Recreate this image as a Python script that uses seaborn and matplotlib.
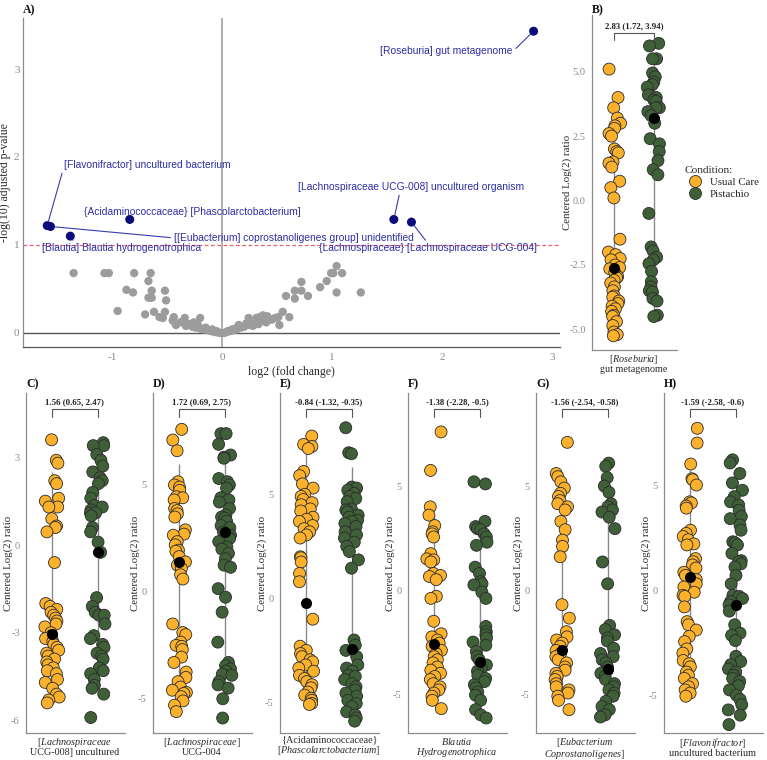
import numpy as np
import pandas as pd
import matplotlib
matplotlib.use("Agg")
import matplotlib.pyplot as plt
import seaborn as sns

# ---------------- data ----------------
# Panel A: volcano (grey = non significant)
grey_lfc = [-1.35, -1.07, -1.03, -0.80, -0.65, -0.67, -0.87, -0.81, -0.64, -0.67,
            -0.64, -0.52, -0.51, -0.95, -0.70, -0.62, -0.52, -0.57, -0.54, -0.44,
            -0.45, -0.34, -0.20, -0.38, -0.42, -0.33, -0.30, -0.27, -0.26, -0.24,
            -0.22, -0.20, -0.17, -0.15, -0.13, -0.10, -0.09, -0.07, -0.05, -0.04,
            -0.02, 0.00, 0.02, 0.04, 0.05, 0.07, 0.09, 0.10, 0.12, 0.13,
            0.15, 0.17, 0.20, 0.22, 0.24, 0.25, 0.28, 0.30, 0.31, 0.33,
            0.34, 0.36, 0.37, 0.40, 0.41, 0.45, 0.48, 0.51, 0.52, 0.55,
            0.58, 0.61, 0.66, 0.66, 0.72, 0.72, 0.78, 0.89, 0.95, 0.99,
            1.01, 1.04, 1.09, 1.04, 1.26]
grey_p = [0.68, 0.68, 0.68, 0.68, 0.68, 0.59, 0.49, 0.46, 0.48, 0.40,
          0.40, 0.48, 0.37, 0.25, 0.21, 0.24, 0.24, 0.18, 0.17, 0.18,
          0.14, 0.17, 0.17, 0.12, 0.09, 0.08, 0.10, 0.07, 0.12, 0.06,
          0.09, 0.05, 0.04, 0.06, 0.03, 0.02, 0.04, 0.01, 0.02, 0.005,
          0.00, 0.00, 0.00, 0.01, 0.02, 0.02, 0.04, 0.03, 0.05, 0.04,
          0.09, 0.06, 0.07, 0.11, 0.17, 0.09, 0.08, 0.12, 0.17, 0.10,
          0.18, 0.14, 0.20, 0.12, 0.19, 0.15, 0.17, 0.18, 0.09, 0.24,
          0.42, 0.18, 0.39, 0.48, 0.58, 0.48, 0.42, 0.52, 0.59, 0.68,
          0.68, 0.76, 0.68, 0.46, 0.46]
sig_names = ["[Roseburia] gut metagenome",
             "[Flavonifractor] uncultured bacterium",
             "[[Eubacterium] coprostanoligenes group] unidentified",
             "[Blautia] Blautia hydrogenotrophica",
             "{Acidaminococcaceae} [Phascolarctobacterium]",
             "[Lachnospiraceae UCG-008] uncultured organism",
             "{Lachnospiraceae} [Lachnospiraceae UCG-004]"]
sig_lfc = [2.83, -1.59, -1.56, -1.38, -0.84, 1.56, 1.72]
sig_p = [3.43, 1.22, 1.21, 1.10, 1.29, 1.29, 1.26]
p_threshold = 1.0

conditions = ["Usual Care", "Pistachio"]

# Panel B  [Roseburia] gut metagenome
uc_B = [5.1, 4.0, 3.6, 3.2, 3.0, 2.9, 2.8, 2.6, 2.5, 2.0, 1.9, 1.85, 1.5, 1.45, 1.3,
        0.75, 0.5, 0.1, -1.5, -2.0, -2.1, -2.25, -2.3, -2.5, -2.6, -2.65, -2.8, -2.95,
        -3.0, -3.1, -3.2, -3.35, -3.5, -3.7, -3.75, -3.9, -4.0, -4.1, -4.2, -4.3, -4.45,
        -4.5, -4.7, -4.85, -5.1, -5.2, -5.25]
pi_B = [6.1, 6.0, 5.5, 5.5, 4.95, 4.8, 4.6, 4.5, 4.4, 4.1, 4.0, 3.9, 3.85, 3.6, 3.6,
        3.45, 3.3, 3.0, 2.4, 2.2, 1.9, 1.55, 1.2, 1.0, -0.5, -1.8, -1.95, -2.2, -2.3,
        -2.45, -2.75, -3.15, -3.35, -3.5, -3.55, -3.8, -3.9, -4.45, -4.5]
# Panel C  Lachnospiraceae UCG-008
uc_C = [3.6, 2.9, 2.8, 2.2, 2.1, 1.6, 1.5, 1.3, 1.3, 0.9, 0.65, 0.6, 0.45, -0.6, -2.0,
        -2.1, -2.2, -2.3, -2.4, -2.5, -2.6, -2.7, -2.8, -3.0, -3.1, -3.2, -3.3, -3.4,
        -3.5, -3.6, -3.7, -3.8, -3.9, -4.0, -4.1, -4.2, -4.3, -4.4, -4.6, -4.7, -4.9,
        -5.1, -5.2, -5.3, -5.4]
pi_C = [3.5, 3.4, 3.4, 3.1, 2.9, 2.7, 2.5, 2.3, 2.2, 2.1, 1.8, 1.6, 1.35, 1.3, 1.2,
        1.1, 1.1, 1.0, 0.6, 0.45, 0.1, -0.25, -1.8, -2.1, -2.3, -2.4, -2.4, -2.7, -3.1,
        -3.2, -3.4, -3.5, -3.7, -3.8, -3.9, -4.2, -4.3, -4.4, -4.6, -4.8, -4.9, -5.1, -5.9]
# Panel D  Lachnospiraceae UCG-004
uc_D = [7.6, 7.1, 6.6, 5.15, 5.0, 4.9, 4.75, 4.45, 4.4, 4.3, 3.9, 3.8, 3.65, 3.5, 2.9,
        2.7, 2.65, 2.35, 2.2, 1.95, 1.9, 1.65, 1.4, 1.25, 1.1, 0.8, 0.6, -1.5, -1.9,
        -2.0, -2.35, -2.5, -2.55, -2.7, -3.05, -3.3, -3.75, -4.0, -4.2, -4.45, -4.6,
        -4.7, -4.75, -4.9, -5.1, -5.3, -5.6]
pi_D = [7.4, 7.4, 6.9, 6.4, 6.3, 6.25, 5.3, 5.15, 5.0, 4.85, 4.4, 4.3, 4.2, 3.9, 3.6,
        3.5, 3.45, 3.3, 3.1, 3.0, 2.8, 2.65, 2.5, 2.35, 2.1, 2.0, 1.8, 1.55, 1.25, 1.15,
        0.15, -0.25, -0.95, -2.35, -3.3, -3.45, -3.6, -3.7, -3.85, -3.9, -4.2, -4.35,
        -4.5, -5.0, -5.9]
# Panel E  Acidaminococcaceae / Phascolarctobacterium
uc_E = [7.8, 7.4, 7.3, 7.2, 6.1, 5.9, 5.5, 5.3, 5.0, 4.9, 4.75, 4.6, 4.5, 4.3, 4.2,
        3.9, 3.8, 3.7, 3.5, 3.35, 3.2, 3.05, 2.9, 2.0, 1.95, 1.75, 1.2, 0.8, -1.0, -2.3,
        -2.5, -2.65, -2.8, -2.95, -3.05, -3.2, -3.35, -3.5, -3.7, -3.85, -4.0, -4.15,
        -4.3, -4.5, -4.65, -4.8, -4.9, -5.05, -5.1]
pi_E = [8.2, 7.0, 6.95, 5.35, 5.3, 5.2, 5.05, 4.9, 4.8, 4.65, 4.3, 4.25, 4.15, 4.0,
        3.9, 3.75, 3.7, 3.6, 3.45, 3.2, 3.05, 2.9, 2.7, 2.5, 2.25, 1.85, 1.45, -2.0,
        -2.25, -2.5, -2.8, -3.2, -3.35, -3.5, -3.7, -3.75, -3.9, -4.1, -4.25, -4.4,
        -4.55, -4.7, -4.9, -5.05, -5.2, -5.45, -5.6, -5.75, -5.9]
# Panel F  Blautia hydrogenotrophica
uc_F = [7.6, 5.75, 4.0, 3.6, 3.1, 2.8, 2.7, 2.55, 1.75, 1.5, 1.45, 1.35, 0.8, 0.7, 0.65,
        0.5, -0.3, -0.4, -1.5, -2.1, -2.25, -2.4, -2.55, -2.7, -2.9, -3.05, -3.2, -3.35,
        -3.5, -3.7, -3.85, -4.0, -4.15, -4.3, -4.5, -4.65, -4.8, -4.95, -5.1, -5.3, -5.7]
pi_F = [5.2, 5.1, 3.3, 3.05, 2.95, 2.9, 2.7, 2.55, 2.3, 2.15, 1.1, 0.8, 0.4, 0.3, 0.25,
        -0.1, -0.4, -1.75, -2.0, -2.15, -2.3, -2.5, -2.65, -2.95, -3.2, -3.35, -3.6,
        -3.75, -3.9, -4.1, -4.25, -4.4, -4.55, -4.7, -4.9, -5.05, -5.3, -5.75, -6.0, -6.15]
# Panel G  Eubacterium coprostanoligenes
uc_G = [7.1, 5.6, 5.45, 5.2, 4.9, 4.65, 4.5, 4.3, 4.15, 4.0, 3.85, 3.3, 2.9, 2.4, 2.1,
        1.6, -0.7, -1.35, -2.0, -2.25, -2.4, -2.55, -2.7, -2.9, -3.05, -3.2, -3.35, -3.5,
        -3.7, -3.85, -4.0, -4.15, -4.3, -4.5, -4.65, -4.8, -4.95, -5.1, -5.3, -5.75]
pi_G = [6.1, 5.95, 5.4, 5.0, 4.7, 4.15, 4.0, 3.85, 3.75, 3.5, 2.95, 1.35, 0.3, -1.7,
        -1.9, -2.15, -2.3, -2.45, -2.8, -3.05, -3.2, -3.35, -3.5, -3.7, -3.85, -4.0,
        -4.15, -4.3, -4.5, -4.65, -4.8, -4.95, -5.1, -5.35, -5.6, -5.75, -6.0, -6.1]
# Panel H  Flavonifractor uncultured bacterium
uc_H = [7.7, 7.0, 6.0, 5.3, 5.25, 5.0, 4.2, 4.15, 4.0, 3.9, 2.85, 2.7, 2.55, 2.4, 2.2,
        2.15, 1.5, 1.35, 1.2, 1.05, 0.85, 0.7, 0.5, 0.3, 0.15, -0.1, -0.25, -0.3, -0.8,
        -1.5, -1.65, -1.9, -2.2, -2.45, -2.8, -3.0, -3.35, -3.5, -3.65, -3.9, -4.05,
        -4.2, -4.45, -4.6, -4.75, -4.9, -5.05]
pi_H = [6.2, 6.05, 5.55, 5.1, 4.75, 4.45, 4.2, 4.05, 3.8, 3.5, 3.4, 3.1, 2.85, 2.3,
        2.25, 2.15, 1.75, 1.4, 1.35, 1.25, 1.1, 0.7, 0.3, -0.25, -0.3, -0.4, -0.55, -0.7,
        -1.0, -1.65, -2.05, -2.15, -2.4, -3.15, -3.4, -3.55, -3.75, -3.9, -4.05, -4.2,
        -4.35, -4.55, -4.75, -5.0, -5.2, -5.45, -5.7, -5.95, -6.4]

# group centres (black dots) and range lines: [usual care, pistachio]
centre = {"B": [-2.6, 3.2], "C": [-3.05, -0.25], "D": [1.4, 2.8], "E": [-0.2, -2.45],
          "F": [-2.6, -3.45], "G": [-2.9, -3.8], "H": [0.6, -0.7]}
range_lo = {"B": [-5.2, -4.6], "C": [-5.2, -4.8], "D": [-5.2, -5.0], "E": [-4.9, -5.6],
            "F": [-4.9, -5.3], "G": [-5.0, -5.7], "H": [-5.0, -5.4]}
range_hi = {"B": [3.3, 5.5], "C": [2.5, 3.3], "D": [6.0, 6.3], "E": [7.2, 6.3],
            "F": [3.6, 3.0], "G": [4.2, 5.1], "H": [5.7, 5.5]}
effect_text = {"B": "2.83 (1.72, 3.94)", "C": "1.56 (0.65, 2.47)", "D": "1.72 (0.69, 2.75)",
               "E": "-0.84 (-1.32, -0.35)", "F": "-1.38 (-2.28, -0.5)",
               "G": "-1.56 (-2.54, -0.58)", "H": "-1.59 (-2.58, -0.6)"}
taxon_label = {
    "B": "[$\\mathit{Roseburia}$]\ngut metagenome",
    "C": "[$\\mathit{Lachnospiraceae}$\nUCG-008] uncultured",
    "D": "[$\\mathit{Lachnospiraceae}$]\nUCG-004",
    "E": "{Acidaminococcaceae}\n[$\\mathit{Phascolarctobacterium}$]",
    "F": "$\\mathit{Blautia}$\n$\\mathit{Hydrogenotrophica}$",
    "G": "[$\\mathit{Eubacterium}$\n$\\mathit{Coprostanoligenes}$]",
    "H": "[$\\mathit{Flavonifractor}$]\nuncultured bacterium",
}
values = {"B": (uc_B, pi_B), "C": (uc_C, pi_C), "D": (uc_D, pi_D), "E": (uc_E, pi_E),
          "F": (uc_F, pi_F), "G": (uc_G, pi_G), "H": (uc_H, pi_H)}
yticks = {"B": [-5.0, -2.5, 0.0, 2.5, 5.0], "C": [-6, -3, 0, 3], "D": [-5, 0, 5],
          "E": [-5, 0, 5], "F": [-5, 0, 5], "G": [-5, 0, 5], "H": [-5, 0, 5]}

# ---------------- style ----------------
sns.set_style("white")
plt.rcParams["font.family"] = ["Liberation Serif", "DejaVu Serif"]
plt.rcParams["mathtext.fontset"] = "custom"
plt.rcParams["mathtext.rm"] = "Liberation Serif"
plt.rcParams["mathtext.it"] = "Liberation Serif:italic"
plt.rcParams["axes.unicode_minus"] = False
np.random.seed(7)

YELLOW = "#FBB12B"
GREEN = "#3E5F37"
palette = {"Usual Care": YELLOW, "Pistachio": GREEN}
TICKC = "#8a8a8a"
SPINEC = "#8c8c8c"
LABC = "#2a2a2a"
SANS = ["Liberation Sans", "DejaVu Sans"]

W, H = 767, 760
fig = plt.figure(figsize=(W / 100, H / 100), dpi=100)


def box(l, t, r, b):
    return [l / W, 1 - b / H, (r - l) / W, (b - t) / H]


def style_axes(ax):
    sns.despine(ax=ax)
    for s in ("left", "bottom"):
        ax.spines[s].set_color(SPINEC)
        ax.spines[s].set_linewidth(0.9)
    ax.tick_params(axis="both", length=2.5, width=0.6, color=SPINEC, pad=2)
    ax.tick_params(axis="y", labelsize=7.5, labelcolor=TICKC)


# ---------------- Panel A ----------------
axA = fig.add_axes(box(23, 18, 560, 347))
axA.axvline(0, color="#9a9a9a", lw=1.1, zorder=0)
axA.axhline(0, color="#555555", lw=1.0, zorder=0)
axA.axhline(p_threshold, color="#e8606e", lw=0.9, ls=(0, (3, 2)), zorder=0)
sns.scatterplot(x=grey_lfc, y=grey_p, color="#9c9c9c", s=36, edgecolor="none", ax=axA, zorder=2)
sns.scatterplot(x=sig_lfc, y=sig_p, color="#0a0a7a", s=42, edgecolor="none", ax=axA, zorder=3)
axA.set_xlim(-1.81, 3.07)
axA.set_ylim(-0.16, 3.58)
axA.set_xticks([-1, 0, 1, 2, 3])
axA.set_yticks([0, 1, 2, 3])
style_axes(axA)
axA.spines["bottom"].set_color("#555555")
axA.tick_params(axis="x", labelsize=8, labelcolor=TICKC)
axA.tick_params(axis="y", labelsize=8, length=1.5, pad=1)
axA.set_xlabel("log2 (fold change)", fontsize=8.5, color=LABC, labelpad=3)
axA.set_ylabel("-log(10) adjusted p-value", fontsize=8.5, color=LABC)
axA.yaxis.set_label_coords(-12 / 537, 0.5)

# label placement (layout): text position, alignment, leader-line anchor on text
label_layout = [
    ((2.64, 3.21), "right", (1.0, 0.4)),
    ((-1.44, 1.91), "left", (0.0, 0.25)),
    ((-0.44, 1.08), "left", (0.0, 0.5)),
    ((-1.64, 0.96), "left", (0.21, 1.0)),
    ((-1.26, 1.37), "left", None),
    ((0.69, 1.66), "left", (0.45, 0.0)),
    ((0.88, 0.96), "left", (0.5, 1.0)),
]
LBLUE = "#2f2fa3"
for name, x, y, (txy, ha, rel) in zip(sig_names, sig_lfc, sig_p, label_layout):
    if rel is None:
        axA.text(txy[0], txy[1], name, ha=ha, va="center", fontsize=7.4,
                 color=LBLUE, family=SANS, zorder=4)
    else:
        axA.annotate(name, xy=(x, y), xytext=txy, textcoords="data", ha=ha, va="center",
                     fontsize=7.4, color=LBLUE, family=SANS, zorder=4,
                     arrowprops=dict(arrowstyle="-", color="#3a3ab0", lw=0.8,
                                     shrinkA=0, shrinkB=3, relpos=rel))


# ---------------- strip panels ----------------
def strip_panel(ax, key, ylim, legend=False, br=(0.953, 0.929, 0.974), ylab_px=13):
    uc, pi = values[key]
    df = pd.DataFrame({"taxon": [key] * (len(uc) + len(pi)),
                       "Condition": ["Usual Care"] * len(uc) + ["Pistachio"] * len(pi),
                       "value": uc + pi})
    dm = pd.DataFrame({"taxon": [key, key], "Condition": conditions, "value": centre[key]})
    offs = [-0.2, 0.2]
    ax.vlines(offs, range_lo[key], range_hi[key], color="#8a8a8a", lw=1.0, zorder=0)
    sns.stripplot(data=df, x="taxon", y="value", hue="Condition", hue_order=conditions,
                  palette=palette, dodge=True, jitter=0.13, size=8.6, linewidth=0.6,
                  edgecolor="#2b2b2b", ax=ax, legend=legend, zorder=2)
    sns.stripplot(data=dm, x="taxon", y="value", hue="Condition", hue_order=conditions,
                  palette={c: "black" for c in conditions}, dodge=True, jitter=False,
                  size=8.0, linewidth=0, ax=ax, legend=False, zorder=3)
    ax.set_xlim(-0.43, 0.44)
    ax.set_ylim(*ylim)
    ax.set_yticks(yticks[key])
    if key == "B":
        ax.set_yticklabels([f"{v:.1f}" for v in yticks[key]])
    ax.set_xticks([0])
    ax.set_xticklabels([taxon_label[key]], fontsize=7.3, color=LABC, linespacing=0.95)
    ax.set_xlabel("")
    ax.set_ylabel("Centered Log(2) ratio", fontsize=7.8, color=LABC)
    ax.yaxis.set_label_coords(-ylab_px / (ax.get_position().width * W), 0.5)
    style_axes(ax)
    ax.tick_params(axis="x", length=0, pad=2)
    tr = ax.get_xaxis_transform()
    ax.plot([offs[0], offs[0], offs[1], offs[1]], [br[1], br[0], br[0], br[1]],
            color="#555555", lw=0.8, transform=tr, clip_on=False)
    ax.text(0, br[2], effect_text[key], transform=tr, ha="center", va="center",
            fontsize=6.3, fontweight="bold", color="#222222")


axB = fig.add_axes(box(592, 15, 677, 350))
strip_panel(axB, "B", (-5.8, 7.2), legend=True, br=(0.946, 0.925, 0.966), ylab_px=20)
sns.move_legend(axB, "center left", bbox_to_anchor=(1.0, 0.5), title="Condition:",
                frameon=False, fontsize=7.8, title_fontsize=8.2, handletextpad=0.3,
                labelspacing=0.25, borderaxespad=0.3, markerscale=1.0)
axB.get_legend()._legend_box.align = "left"

panel_boxes = {"C": 26, "D": 153, "E": 280, "F": 408, "G": 536, "H": 664}
panel_ylim = {"C": (-6.43, 5.2), "D": (-6.6, 9.3), "E": (-6.47, 9.87), "F": (-6.87, 9.47),
              "G": (-6.87, 9.47), "H": (-6.8, 9.38)}
for key, left in panel_boxes.items():
    ax = fig.add_axes(box(left, 393, left + 99, 733))
    strip_panel(ax, key, panel_ylim[key])
    fig.text((left) / W, 1 - 378 / H, key + ")", fontsize=8.5, fontweight="bold",
             ha="left", va="top", color="#111111")

fig.text(23 / W, 1 - 4 / H, "A)", fontsize=8.5, fontweight="bold", ha="left", va="top",
         color="#111111")
fig.text(592 / W, 1 - 4 / H, "B)", fontsize=8.5, fontweight="bold", ha="left", va="top",
         color="#111111")

fig.savefig("out.png", dpi=100)
